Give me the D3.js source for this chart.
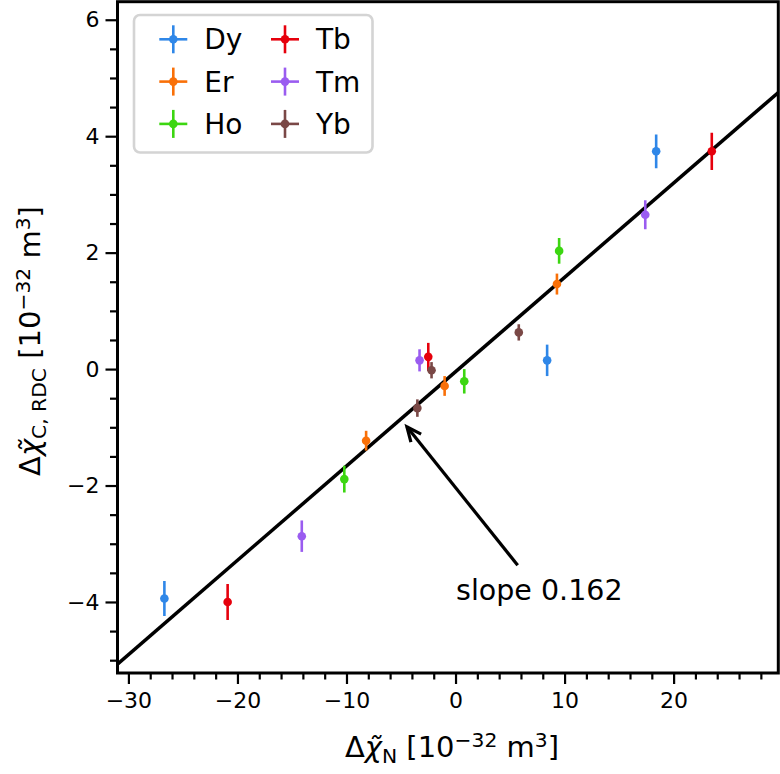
<!DOCTYPE html>
<html>
<head>
<meta charset="utf-8">
<script src="https://cdn.jsdelivr.net/npm/d3@7"></script>
<style>
  html, body { margin: 0; padding: 0; background: #fff; }
  svg { display: block; }
  text { font-family: "DejaVu Sans", sans-serif; fill: #000; }
</style>
</head>
<body>
<svg id="chart" width="780" height="774"></svg>
<script>
// ---- data ----
const seriesNames = ["Dy", "Er", "Ho", "Tb", "Tm", "Yb"];
const seriesColors = ["#2f87e8", "#f97008", "#3cd611", "#e6000c", "#9a5cf0", "#7a4846"];
const dyX = [-26.7, 8.4, 18.4],   dyY = [-3.94, 0.15, 3.74],  dyErr = [0.30, 0.27, 0.29];
const erX = [-8.2, -1.0, 9.3],    erY = [-1.23, -0.29, 1.46], erErr = [0.17, 0.17, 0.18];
const hoX = [-10.2, 0.8, 9.5],    hoY = [-1.89, -0.21, 2.03], hoErr = [0.23, 0.21, 0.22];
const tbX = [-20.9, -2.5, 23.5],  tbY = [-4.00, 0.21, 3.74],  tbErr = [0.31, 0.24, 0.32];
const tmX = [-14.1, -3.3, 17.4],  tmY = [-2.87, 0.15, 2.65],  tmErr = [0.27, 0.19, 0.25];
const ybX = [-3.5, -2.2, 5.8],    ybY = [-0.67, -0.02, 0.63], ybErr = [0.15, 0.14, 0.14];
const fitSlope = 0.162, fitIntercept = -0.045;
const xDomain = [-31, 29.6], yDomain = [-5.22, 6.31];
const xMajorTicks = [-30, -20, -10, 0, 10, 20];
const yMajorTicks = [-4, -2, 0, 2, 4, 6];
const annotText = "slope 0.162";
const annotHead = [-4.46, -0.99];   // arrow tip (data)
const annotTail = [5.7, -3.37];     // arrow tail (data)
const annotTextPos = [0.05, -3.97]; // text baseline start (data)

const seriesX = [dyX, erX, hoX, tbX, tmX, ybX];
const seriesY = [dyY, erY, hoY, tbY, tmY, ybY];
const seriesE = [dyErr, erErr, hoErr, tbErr, tmErr, ybErr];

// ---- layout ----
const L = 117.5, R = 778.3, T = 1.7, B = 673;
const svg = d3.select("#chart");
const x = d3.scaleLinear().domain(xDomain).range([L, R]);
const y = d3.scaleLinear().domain(yDomain).range([B, T]);

const xMinor = d3.range(-30, 30, 2).filter(v => v % 10 !== 0);
const yMinor = d3.range(-5, 6.01, 0.5).filter(v => Math.abs(v % 2) > 1e-6);
const fmt = d => d < 0 ? "\u2212" + Math.abs(d) : d;

const gx = svg.append("g").attr("transform", `translate(0,${B})`);
gx.call(d3.axisBottom(x).tickValues(xMajorTicks).tickSize(11).tickPadding(8).tickFormat(fmt));
gx.append("g").call(d3.axisBottom(x).tickValues(xMinor).tickSize(6.5).tickFormat(""));
const gy = svg.append("g").attr("transform", `translate(${L},0)`);
gy.call(d3.axisLeft(y).tickValues(yMajorTicks).tickSize(12).tickPadding(6).tickFormat(fmt));
gy.append("g").call(d3.axisLeft(y).tickValues(yMinor).tickSize(7.5).tickFormat(""));
svg.selectAll(".domain").remove();
svg.selectAll("g").attr("font-size", null).attr("font-family", null);
svg.selectAll(".tick line").attr("stroke", "#000").attr("stroke-width", 2.2);
svg.selectAll(".tick text").style("font-size", "22px").attr("fill", "#000");

svg.append("clipPath").attr("id", "clip").append("rect")
  .attr("x", L).attr("y", T).attr("width", R - L).attr("height", B - T);

// fit line
const plot = svg.append("g").attr("clip-path", "url(#clip)");
plot.append("line")
  .attr("x1", x(xDomain[0])).attr("y1", y(fitSlope * xDomain[0] + fitIntercept))
  .attr("x2", x(xDomain[1])).attr("y2", y(fitSlope * xDomain[1] + fitIntercept))
  .attr("stroke", "#000").attr("stroke-width", 3.5);

// error bars + points
seriesNames.forEach((name, i) => {
  const g = plot.append("g");
  const pts = seriesX[i].map((v, k) => ({ x: v, y: seriesY[i][k], e: seriesE[i][k] }));
  g.selectAll("line.eb").data(pts).join("line").attr("class", "eb")
    .attr("x1", d => x(d.x)).attr("x2", d => x(d.x))
    .attr("y1", d => y(d.y - d.e)).attr("y2", d => y(d.y + d.e))
    .attr("stroke", seriesColors[i]).attr("stroke-width", 2.6);
  g.selectAll("circle").data(pts).join("circle")
    .attr("cx", d => x(d.x)).attr("cy", d => y(d.y)).attr("r", 4.3)
    .attr("fill", seriesColors[i]);
});

// frame
svg.append("rect").attr("x", L).attr("y", T).attr("width", R - L).attr("height", B - T)
  .attr("fill", "none").attr("stroke", "#000").attr("stroke-width", 3);

// annotation
const hx = x(annotHead[0]), hy = y(annotHead[1]);
const tx = x(annotTail[0]), ty = y(annotTail[1]);
const ang = Math.atan2(ty - hy, tx - hx);
const hl = 16, ha = 0.42;
svg.append("line").attr("x1", tx).attr("y1", ty).attr("x2", hx).attr("y2", hy)
  .attr("stroke", "#000").attr("stroke-width", 3.2);
svg.append("path")
  .attr("d", `M${hx + hl * Math.cos(ang + ha)},${hy + hl * Math.sin(ang + ha)} L${hx},${hy} L${hx + hl * Math.cos(ang - ha)},${hy + hl * Math.sin(ang - ha)}`)
  .attr("fill", "none").attr("stroke", "#000").attr("stroke-width", 3.2).attr("stroke-linejoin", "miter");
svg.append("text").attr("x", x(annotTextPos[0])).attr("y", y(annotTextPos[1]))
  .style("font-size", "28.5px").text(annotText);

// legend
const lg = svg.append("g");
lg.append("rect").attr("x", 134).attr("y", 15).attr("width", 238.5).attr("height", 137.5)
  .attr("rx", 6).attr("fill", "#fff").attr("fill-opacity", 0.8)
  .attr("stroke", "#d4d4d4").attr("stroke-width", 2.6);
seriesNames.forEach((name, i) => {
  const col = Math.floor(i / 3), row = i % 3;
  const mx = 173.3 + col * 111.7, my = 39.3 + row * 42.3;
  const g = lg.append("g");
  g.append("line").attr("x1", mx - 14).attr("x2", mx + 14).attr("y1", my).attr("y2", my)
    .attr("stroke", seriesColors[i]).attr("stroke-width", 2.6);
  g.append("line").attr("x1", mx).attr("x2", mx).attr("y1", my - 14).attr("y2", my + 14)
    .attr("stroke", seriesColors[i]).attr("stroke-width", 2.6);
  g.append("circle").attr("cx", mx).attr("cy", my).attr("r", 4.3).attr("fill", seriesColors[i]);
  g.append("text").attr("x", mx + 31).attr("y", my + 10).style("font-size", "28px").text(name);
});

// axis labels
function mathLabel(sel, sub) {
  sel.append("tspan").text("\u0394");
  sel.append("tspan").attr("font-style", "italic").text("\u03C7\u0303");
  sel.append("tspan").attr("font-size", "0.7em").attr("dy", "0.28em").text(sub);
  sel.append("tspan").attr("dy", "-0.196em").text(" [10");
  sel.append("tspan").attr("font-size", "0.7em").attr("dy", "-0.5em").text("\u221232");
  sel.append("tspan").attr("dy", "0.35em").text(" m");
  sel.append("tspan").attr("font-size", "0.7em").attr("dy", "-0.5em").text("3");
  sel.append("tspan").attr("dy", "0.35em").text("]");
}
const xl = svg.append("text").attr("x", 452).attr("y", 757).attr("text-anchor", "middle")
  .style("font-size", "29px");
mathLabel(xl, "N");
const yl = svg.append("text").attr("transform", "translate(40,341) rotate(-90)")
  .attr("text-anchor", "middle").style("font-size", "29px");
mathLabel(yl, "C, RDC");
</script>
</body>
</html>
